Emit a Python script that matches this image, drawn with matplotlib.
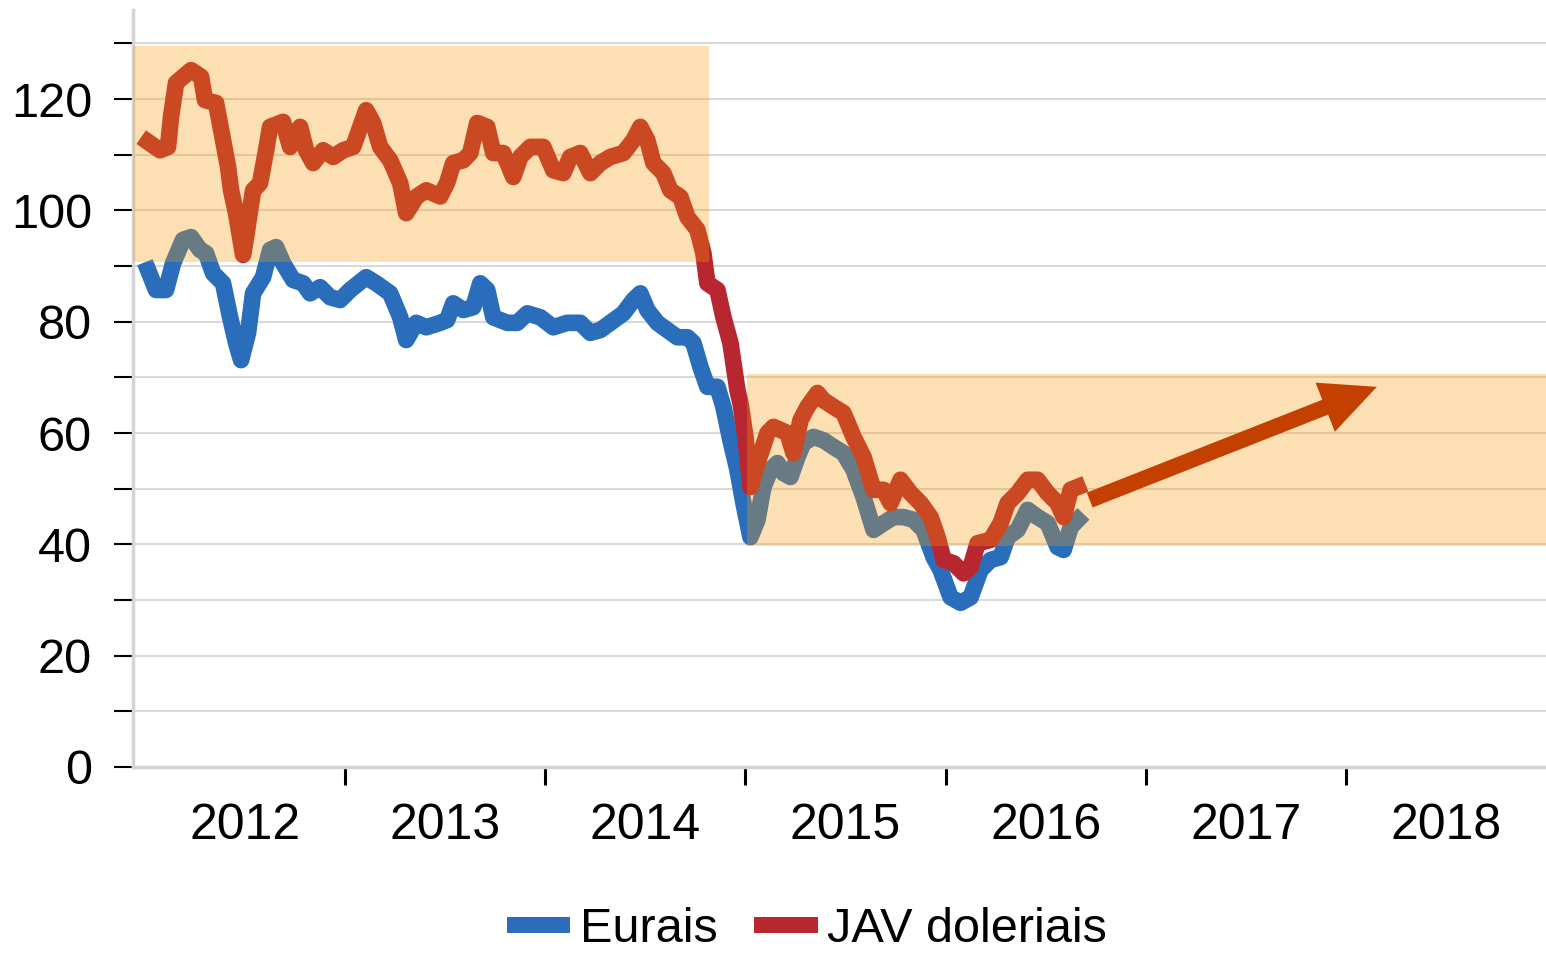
import matplotlib.pyplot as plt
from matplotlib.patches import Rectangle

plt.rcParams['font.family'] = ['Liberation Sans', 'DejaVu Sans']

# JAV doleriais (Brent, USD) - decimal years / values
usd_t = [2012.015, 2012.075, 2012.115, 2012.13, 2012.155, 2012.23, 2012.28, 2012.30,
         2012.355, 2012.39, 2012.415, 2012.43, 2012.455, 2012.49, 2012.505, 2012.54,
         2012.575, 2012.605, 2012.625, 2012.69, 2012.725, 2012.775, 2012.805, 2012.84,
         2012.89, 2012.94, 2012.99, 2013.04, 2013.105, 2013.14, 2013.175, 2013.225,
         2013.275, 2013.305, 2013.355, 2013.405, 2013.475, 2013.51, 2013.54, 2013.59,
         2013.625, 2013.66, 2013.71, 2013.74, 2013.79, 2013.84, 2013.875, 2013.925,
         2013.99, 2014.04, 2014.09, 2014.125, 2014.175, 2014.225, 2014.275, 2014.325,
         2014.39, 2014.44, 2014.475, 2014.51, 2014.54, 2014.59, 2014.625, 2014.675,
         2014.71, 2014.76, 2014.79, 2014.81, 2014.86, 2014.89, 2014.925, 2014.96,
         2014.975, 2015.0, 2015.025, 2015.06, 2015.11, 2015.14, 2015.21, 2015.24,
         2015.275, 2015.31, 2015.36, 2015.39, 2015.44, 2015.49, 2015.54, 2015.59,
         2015.64, 2015.69, 2015.725, 2015.775, 2015.825, 2015.875, 2015.925, 2015.96,
         2015.99, 2016.04, 2016.09, 2016.125, 2016.16, 2016.225, 2016.275, 2016.31,
         2016.36, 2016.41, 2016.46, 2016.51, 2016.56, 2016.59, 2016.625, 2016.66]
usd_v = [112.3, 110.8, 111.4, 116.8, 122.9, 125.2, 124.0, 119.8,
         119.3, 112.6, 107.8, 103.6, 99.5, 92.0, 95.2, 103.6,
         104.9, 110.8, 115.0, 115.9, 111.4, 115.0, 110.8, 108.5,
         110.8, 109.6, 110.8, 111.4, 118.0, 115.7, 111.4, 109.0,
         104.9, 99.5, 102.4, 103.6, 102.5, 105.0, 108.5, 109.0,
         110.3, 115.7, 115.0, 110.3, 110.3, 106.0, 109.6, 111.4,
         111.4, 107.2, 106.7, 109.6, 110.3, 106.7, 108.5, 109.6,
         110.3, 112.6, 115.0, 112.6, 108.5, 106.7, 103.6, 102.4,
         98.8, 96.5, 92.3, 86.9, 85.7, 80.8, 76.2, 67.7,
         65.4, 59.3, 50.3, 54.6, 60.0, 61.1, 60.0, 56.4,
         62.3, 64.7, 67.2, 65.9, 64.7, 63.6, 59.3, 55.7,
         49.8, 49.8, 47.4, 51.6, 49.2, 47.4, 44.9, 41.3,
         37.2, 36.6, 34.8, 35.9, 40.2, 40.8, 43.8, 47.4,
         49.2, 51.6, 51.6, 49.2, 47.4, 44.9, 49.8, 50.3]

# Eurais (Brent, EUR)
eur_t = [2012.015, 2012.055, 2012.105, 2012.14, 2012.19, 2012.23, 2012.275, 2012.305,
         2012.34, 2012.39, 2012.425, 2012.455, 2012.48, 2012.515, 2012.54, 2012.59,
         2012.625, 2012.655, 2012.69, 2012.74, 2012.79, 2012.825, 2012.875, 2012.925,
         2012.975, 2013.025, 2013.105, 2013.155, 2013.225, 2013.275, 2013.305, 2013.355,
         2013.405, 2013.475, 2013.51, 2013.54, 2013.59, 2013.64, 2013.675, 2013.71,
         2013.74, 2013.81, 2013.86, 2013.91, 2013.975, 2014.04, 2014.11, 2014.175,
         2014.225, 2014.275, 2014.325, 2014.39, 2014.44, 2014.475, 2014.51, 2014.56,
         2014.61, 2014.66, 2014.71, 2014.74, 2014.775, 2014.81, 2014.86, 2014.89,
         2014.925, 2014.96, 2014.99, 2015.025, 2015.06, 2015.09, 2015.125, 2015.16,
         2015.19, 2015.225, 2015.26, 2015.29, 2015.34, 2015.39, 2015.44, 2015.49,
         2015.54, 2015.59, 2015.64, 2015.69, 2015.74, 2015.79, 2015.84, 2015.89,
         2015.94, 2015.975, 2016.025, 2016.075, 2016.125, 2016.175, 2016.225, 2016.275,
         2016.31, 2016.36, 2016.41, 2016.46, 2016.51, 2016.56, 2016.59, 2016.625,
         2016.66]
eur_v = [89.3, 85.7, 85.7, 90.5, 94.7, 95.2, 92.9, 92.3,
         88.7, 86.9, 80.8, 76.2, 73.1, 78.0, 85.1, 88.0,
         92.9, 93.4, 90.5, 87.5, 86.9, 85.1, 86.2, 84.4,
         83.9, 85.7, 88.0, 86.9, 85.1, 80.8, 76.7, 79.8,
         79.0, 79.8, 80.3, 83.3, 82.1, 82.6, 86.9, 85.7,
         80.8, 79.8, 79.8, 81.5, 80.8, 79.0, 79.8, 79.8,
         78.0, 78.5, 79.8, 81.5, 83.9, 85.1, 82.1, 79.8,
         78.5, 77.2, 77.2, 76.2, 71.9, 68.3, 68.3, 64.7,
         58.7, 53.4, 47.4, 41.3, 44.4, 50.3, 53.4, 54.6,
         52.8, 52.1, 55.7, 58.2, 59.3, 58.7, 57.5, 56.4,
         53.4, 48.5, 42.6, 43.8, 44.9, 44.9, 44.4, 42.6,
         37.7, 35.4, 30.5, 29.5, 30.5, 35.4, 37.2, 37.7,
         41.3, 42.6, 46.2, 44.9, 43.8, 39.5, 39.0, 43.1,
         44.4]

years = [2012, 2013, 2014, 2015, 2016, 2017, 2018]
year_bounds = [2013, 2014, 2015, 2016, 2017, 2018]

# highlighted ranges (x0, x1, y0, y1)
box1 = (2011.94, 2014.82, 90.8, 129.5)
box2 = (2015.01, 2019.0, 39.7, 70.6)
arrow_tail = (2016.72, 47.96)
arrow_tip = (2018.155, 68.3)

fig = plt.figure(figsize=(15.46, 9.55), dpi=100)
ax = fig.add_axes([133 / 1546, 1 - 767 / 955, 1 - 133 / 1546, (767 - 10) / 955])

ax.plot(eur_t, eur_v, color='#2a6ebb', lw=12, label='Eurais', zorder=3)
ax.plot(usd_t, usd_v, color='#b8272f', lw=12, label='JAV doleriais', zorder=3)

for x0, x1, y0, y1 in (box1, box2):
    ax.add_patch(Rectangle((x0, y0), x1 - x0, y1 - y0, facecolor=(248 / 255, 152 / 255, 5 / 255),
                           alpha=0.3, lw=0, zorder=4))

ax.annotate('', xy=arrow_tip, xytext=arrow_tail,
            arrowprops=dict(arrowstyle='simple,head_length=0.40,head_width=0.38,tail_width=0.115',
                            mutation_scale=100, color='#c44000', lw=0,
                            shrinkA=0, shrinkB=0), zorder=5)

ax.set_xlim(2011.94, 2019.0)
ax.set_ylim(0, 136)

ax.set_yticks(range(0, 131, 10))
ax.set_yticklabels([str(v) if v % 20 == 0 else '' for v in range(0, 131, 10)])
ax.grid(axis='y', color='#d9d9d9', lw=1.5, zorder=1)
ax.set_axisbelow(True)

ax.set_xticks(year_bounds)
ax.set_xticklabels([])
ax.set_xticks([y + 0.5 for y in years], minor=True)
ax.set_xticklabels([str(y) for y in years], minor=True)

ax.tick_params(axis='y', length=13.5, width=1.5, color='black', labelsize=35, pad=16)
ax.tick_params(axis='x', which='major', length=13, width=2.2, color='black')
ax.tick_params(axis='x', which='minor', length=0, labelsize=36, pad=26)

for s in ['top', 'right']:
    ax.spines[s].set_visible(False)
for s in ['left', 'bottom']:
    ax.spines[s].set_color('#d4d4d4')
    ax.spines[s].set_linewidth(2.5)

leg = fig.legend(loc='center', bbox_to_anchor=(0.522, 0.027), ncol=2, frameon=False,
                 fontsize=35, handlelength=1.3, handletextpad=0.2, columnspacing=0.76,
                 borderpad=0.1)
for h in leg.get_lines():
    h.set_linewidth(11.5)
    h.set_solid_capstyle('butt')

fig.savefig('out.png', dpi=100)
